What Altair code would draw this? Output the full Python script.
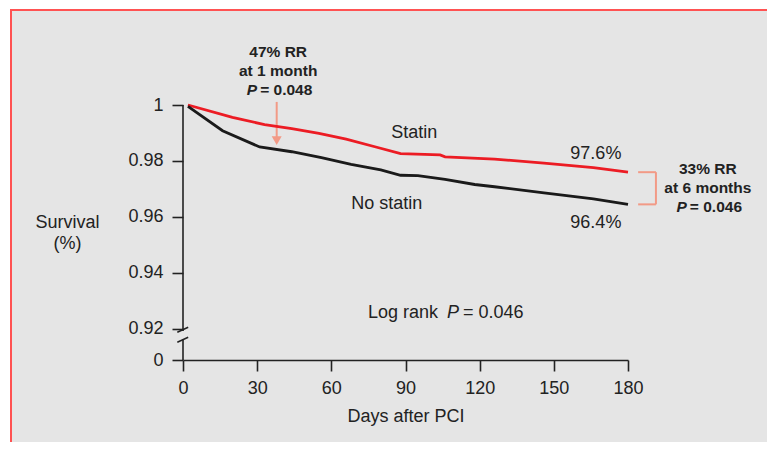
import altair as alt
import pandas as pd

# ---------------- data ----------------
statin_days = [2, 20, 33, 44, 55, 66, 78, 88, 104, 106, 126, 146, 166, 180]
statin_surv = [1.0, 0.9956, 0.9930, 0.9916, 0.9899, 0.9878, 0.9850, 0.9826,
               0.9822, 0.9815, 0.9807, 0.9792, 0.9776, 0.9760]
nostatin_days = [2, 16, 31, 44, 56, 68, 80, 88, 95, 106, 118, 126, 146, 166, 180]
nostatin_surv = [0.9995, 0.9908, 0.9850, 0.9833, 0.9812, 0.9788, 0.9768, 0.9749,
                 0.9748, 0.9734, 0.9716, 0.9708, 0.9686, 0.9665, 0.9645]
group_names = ["Statin", "No statin"]
end_labels = ["97.6%", "96.4%"]
x_ticks = [0, 30, 60, 90, 120, 150, 180]
y_ticks = [0.92, 0.94, 0.96, 0.98, 1.0]

rr1_lines = ["47% RR", "at 1 month"]
rr1_p = "= 0.048"
rr6_lines = ["33% RR", "at 6 months"]
rr6_p = "= 0.046"
logrank_parts = ["Log rank", "P", "= 0.046"]

# ---------------- layout / style constants ----------------
F = "Liberation Sans"
TXT = "#222222"
RED = "#ec1c24"
BLACK = "#1a1a1a"
SALMON = "#f29a86"
BG = "#e5e5e5"
BORDER = "#ff5252"
Y_ZERO = 0.9089          # axis position of the "0" below the break
W, H = 445, 255

xs = alt.Scale(domain=[0, 180], nice=False, zero=False)
ys = alt.Scale(domain=[Y_ZERO, 1.0], nice=False, zero=False)

xaxis = alt.Axis(values=x_ticks, title="Days after PCI", grid=False,
                 domainColor=TXT, domainWidth=1.6, tickColor=TXT, tickWidth=1.6,
                 tickSize=11, labelPadding=8, labelFontSize=18, labelFont=F,
                 labelColor=TXT, labelFlush=False, titleFont=F, titleFontSize=18,
                 titleFontWeight="normal", titleColor=TXT, titleY=56,
                 titleBaseline="middle", zindex=1)
yaxis = alt.Axis(values=[Y_ZERO] + y_ticks,
                 labelExpr="datum.value < 0.915 ? '0' : format(datum.value, '.2~f')",
                 title=["Survival", "(%)"], titleAngle=0, titleX=-116, titleY=117,
                 titleAlign="center", titleBaseline="middle", titleLineHeight=21,
                 titleFont=F, titleFontSize=18, titleFontWeight="normal",
                 titleColor=TXT, domain=False, grid=False, tickColor=TXT,
                 tickWidth=1.6, tickSize=11, labelPadding=9, labelFontSize=18,
                 labelFont=F, labelColor=TXT, labelFlush=False, zindex=1)


def X(f="day"):
    return alt.X(f"{f}:Q", scale=xs, axis=xaxis)


def Y(f="surv"):
    return alt.Y(f"{f}:Q", scale=ys, axis=yaxis)


# background panel with red left/top frame
one = pd.DataFrame({"a": [0]})
bg = alt.Chart(one).mark_rect(fill=BG, strokeWidth=0).encode(
    x=alt.value(-172), x2=alt.value(640), y=alt.value(-95), y2=alt.value(400))
frame_left = alt.Chart(one).mark_rule(color=BORDER, strokeWidth=2).encode(
    x=alt.value(-172), y=alt.value(-96), y2=alt.value(400))
frame_top = alt.Chart(one).mark_rule(color=BORDER, strokeWidth=2).encode(
    x=alt.value(-173), x2=alt.value(640), y=alt.value(-95))

# survival curves
lines_df = pd.DataFrame({
    "day": statin_days + nostatin_days,
    "surv": statin_surv + nostatin_surv,
    "group": [group_names[0]] * len(statin_days) + [group_names[1]] * len(nostatin_days),
})
lines = alt.Chart(lines_df).mark_line(strokeWidth=2.8).encode(
    x=X(), y=Y(),
    color=alt.Color("group:N", scale=alt.Scale(domain=group_names, range=[RED, BLACK]),
                    legend=None),
    detail="group:N",
)

# broken y axis line
seg_df = pd.DataFrame({"day": [0, 0], "surv": [1.0, 0.9164], "surv2": [0.9193, Y_ZERO]})
yline = alt.Chart(seg_df).mark_rule(color=TXT, strokeWidth=1.6).encode(
    x=X(), y=Y(), y2="surv2:Q")
brk_df = pd.DataFrame({"day": [-2.3, -2.3], "day2": [2.1, 2.1],
                       "surv": [0.91882, 0.91525], "surv2": [0.92061, 0.91704]})
breaks = alt.Chart(brk_df).mark_rule(color=TXT, strokeWidth=1.5).encode(
    x=X(), x2="day2:Q", y=Y(), y2="surv2:Q")

# arrow at 1 month
arrow_df = pd.DataFrame({"day": [37.9], "surv": [1.0011], "surv2": [0.9875]})
arrow = alt.Chart(arrow_df).mark_rule(color=SALMON, strokeWidth=2).encode(
    x=X(), y=Y(), y2="surv2:Q")
head_df = pd.DataFrame({"day": [37.9], "surv": [0.98725]})
head = alt.Chart(head_df).mark_point(shape="triangle-down", size=100, filled=True,
                                     color=SALMON, opacity=1).encode(x=X(), y=Y())

# bracket at 6 months
br_df = pd.DataFrame({"day": [184.1, 191.3, 184.1], "day2": [191.3, 191.3, 191.3],
                      "surv": [statin_surv[-1], statin_surv[-1], nostatin_surv[-1]],
                      "surv2": [statin_surv[-1], nostatin_surv[-1], nostatin_surv[-1]]})
bracket = alt.Chart(br_df).mark_rule(color=SALMON, strokeWidth=2).encode(
    x=X(), x2="day2:Q", y=Y(), y2="surv2:Q")

# bold annotations
bold_df = pd.DataFrame({"day": [38.5, 38.5, 212.3, 212.3],
                        "surv": [1.0189, 1.0121, 0.9770, 0.9702],
                        "t": rr1_lines + rr6_lines})
bold_txt = alt.Chart(bold_df).mark_text(font=F, fontSize=15.5, fontWeight="bold",
                                        color=TXT, align="center", baseline="middle").encode(
    x=X(), y=Y(), text="t:N")
p_df = pd.DataFrame({"day": [38.5, 212.3], "surv": [1.0054, 0.9636], "t": ["P", "P"]})
p_it = alt.Chart(p_df).mark_text(font=F, fontSize=15.5, fontWeight="bold", fontStyle="italic",
                                 color=TXT, align="right", baseline="middle", dx=-21).encode(
    x=X(), y=Y(), text="t:N")
pv_df = pd.DataFrame({"day": [38.5, 212.3], "surv": [1.0054, 0.9636], "t": [rr1_p, rr6_p]})
pv = alt.Chart(pv_df).mark_text(font=F, fontSize=15.5, fontWeight="bold",
                                color=TXT, align="left", baseline="middle", dx=-18).encode(
    x=X(), y=Y(), text="t:N")

# regular labels
reg_df = pd.DataFrame({"day": [93.5, 82.4, 167.0, 167.0],
                       "surv": [0.9901, 0.9645, 0.9824, 0.9578],
                       "t": group_names + end_labels})
reg_txt = alt.Chart(reg_df).mark_text(font=F, fontSize=18, color=TXT, align="center",
                                      baseline="middle").encode(x=X(), y=Y(), text="t:N")

lr_df = pd.DataFrame({"day": [74.8], "surv": [0.9258]})
lr_base = alt.Chart(lr_df)
lr1 = lr_base.mark_text(font=F, fontSize=18, color=TXT, align="left", baseline="middle",
                        text=logrank_parts[0]).encode(x=X(), y=Y())
lr2 = lr_base.mark_text(font=F, fontSize=18, color=TXT, align="left", baseline="middle",
                        fontStyle="italic", dx=79, text=logrank_parts[1]).encode(x=X(), y=Y())
lr3 = lr_base.mark_text(font=F, fontSize=18, color=TXT, align="left", baseline="middle",
                        dx=95, text=logrank_parts[2]).encode(x=X(), y=Y())

chart = alt.layer(
    bg, frame_left, frame_top, yline, breaks, arrow, head, bracket, lines,
    bold_txt, p_it, pv, reg_txt, lr1, lr2, lr3
).properties(
    width=W, height=H,
    autosize=alt.AutoSizeParams(type="none"),
    padding={"left": 175, "top": 97, "right": 139, "bottom": 82},
).configure_view(strokeWidth=0).configure(background="#ffffff")

chart.save("out.html", embed_options={"renderer": "svg", "actions": False})
